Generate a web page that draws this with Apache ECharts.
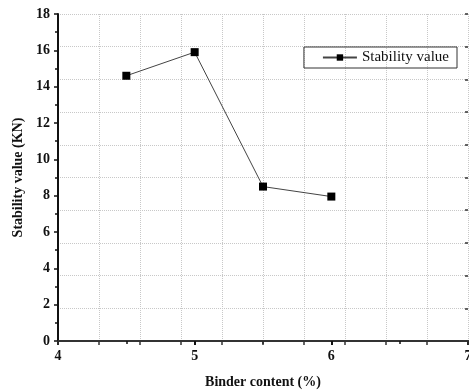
<!DOCTYPE html>
<html>
<head>
<meta charset="utf-8">
<script src="https://cdn.jsdelivr.net/npm/echarts@6/dist/echarts.min.js"></script>
<style>
  html, body { margin: 0; padding: 0; background: #fff; }
  #chart { width: 469px; height: 392px; }
</style>
</head>
<body>
<div id="chart"></div>
<script>
// data
const binderContent = [4.5, 5, 5.5, 6];
const stabilityValue = [14.6, 15.9, 8.5, 7.95];
const seriesName = 'Stability value';

const chart = echarts.init(document.getElementById('chart'));
const font = 'Liberation Serif';

const option = {
  animation: false,
  backgroundColor: '#fff',
  textStyle: { fontFamily: font },
  grid: { left: 58, top: 14, right: 1, bottom: 51, outerBoundsMode: 'none' },
  legend: {
    data: [seriesName],
    right: 12,
    top: 47,
    orient: 'vertical',
    borderColor: '#333',
    borderWidth: 1,
    padding: [3, 8, 3, 18],
    itemWidth: 34,
    itemHeight: 8,
    textStyle: { fontFamily: font, fontSize: 15, color: '#111' }
  },
  xAxis: [{
    type: 'value',
    min: 4, max: 7, interval: 1,
    name: 'Binder content (%)',
    nameLocation: 'middle',
    nameGap: 34,
    nameTextStyle: { fontFamily: font, fontSize: 14, fontWeight: 'bold', color: '#111' },
    axisLine: { lineStyle: { color: '#111', width: 2 } },
    axisTick: { inside: false, length: 4, lineStyle: { color: '#111', width: 2 } },
    minorTick: { show: true, splitNumber: 2, length: 3, lineStyle: { color: '#111', width: 1.5 } },
    axisLabel: { fontFamily: font, fontSize: 14, fontWeight: 'bold', color: '#111', margin: 8 },
    splitLine: { show: false }
  }, {
    type: 'value',
    position: 'top',
    min: 4, max: 7, interval: 0.3,
    axisLine: { show: true, lineStyle: { color: '#333', width: 2 } },
    axisTick: { inside: true, length: 4, lineStyle: { color: '#333', width: 1.5 } },
    axisLabel: { show: false },
    splitLine: { show: true, lineStyle: { color: '#c8c8c8', type: 'dotted', width: 1 } }
  }],
  yAxis: [{
    type: 'value',
    min: 0, max: 18, interval: 2,
    name: 'Stability value (KN)',
    nameLocation: 'middle',
    nameGap: 32,
    nameTextStyle: { fontFamily: font, fontSize: 14, fontWeight: 'bold', color: '#111' },
    axisLine: { show: true, lineStyle: { color: '#111', width: 2 } },
    axisTick: { show: true, inside: false, length: 4, lineStyle: { color: '#111', width: 1.5 } },
    minorTick: { show: true, splitNumber: 2, length: 3, lineStyle: { color: '#111', width: 1.5 } },
    axisLabel: { fontFamily: font, fontSize: 14, fontWeight: 'bold', color: '#111', margin: 8 },
    splitLine: { show: false }
  }, {
    type: 'value',
    position: 'right',
    min: 0, max: 18, interval: 1.8,
    axisLine: { show: false },
    axisTick: { show: true, inside: true, length: 3, lineStyle: { color: '#333', width: 1.5 } },
    axisLabel: { show: false },
    splitLine: { show: true, lineStyle: { color: '#c8c8c8', type: 'dotted', width: 1 } }
  }],
  series: [{
    name: seriesName,
    type: 'line',
    xAxisIndex: 0,
    yAxisIndex: 0,
    data: binderContent.map((x, i) => [x, stabilityValue[i]]),
    symbol: 'rect',
    symbolSize: 8,
    itemStyle: { color: '#000' },
    lineStyle: { color: '#444', width: 1 }
  }]
};

chart.setOption(option);
</script>
</body>
</html>
